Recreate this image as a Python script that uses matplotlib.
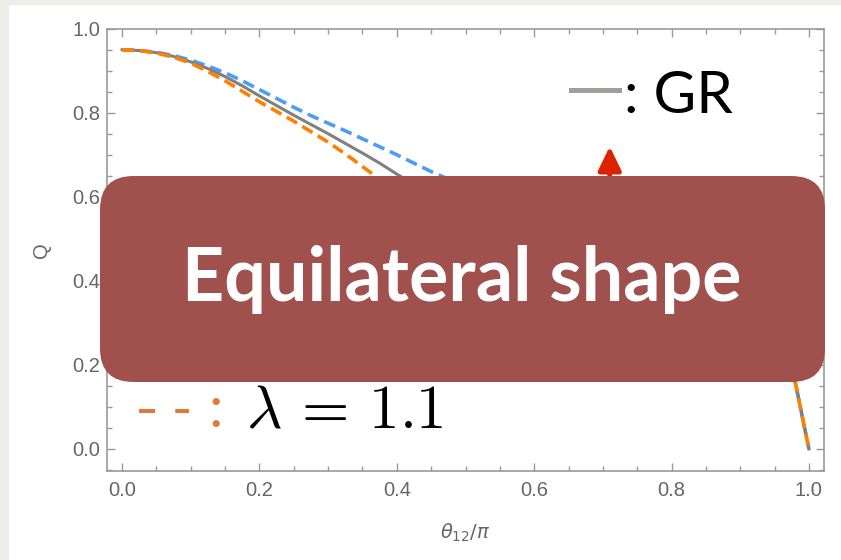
import numpy as np
import matplotlib
matplotlib.use("Agg")
import matplotlib.pyplot as plt
from matplotlib.patches import FancyBboxPatch, Rectangle
from matplotlib.lines import Line2D
from matplotlib.ticker import MultipleLocator, FormatStrFormatter

# theta_12 / pi
theta = [0.000, 0.025, 0.050, 0.075, 0.100, 0.125, 0.150, 0.175, 0.200, 0.225,
         0.250, 0.275, 0.300, 0.325, 0.350, 0.375, 0.400, 0.425, 0.450, 0.475,
         0.500, 0.550, 0.600, 0.650, 0.700, 0.750, 0.800, 0.850, 0.900, 0.930,
         0.950, 0.970, 0.980, 0.990, 1.000]
q_gr = [0.950, 0.948, 0.943, 0.934, 0.921, 0.905, 0.886, 0.864, 0.840, 0.817,
        0.794, 0.772, 0.750, 0.727, 0.704, 0.680, 0.654, 0.629, 0.605, 0.582,
        0.560, 0.518, 0.480, 0.445, 0.413, 0.383, 0.354, 0.324, 0.290, 0.265,
        0.243, 0.205, 0.160, 0.080, 0.000]
q_blue = [0.950, 0.948, 0.944, 0.936, 0.925, 0.911, 0.895, 0.876, 0.855, 0.834,
          0.813, 0.793, 0.775, 0.757, 0.738, 0.719, 0.700, 0.680, 0.660, 0.642,
          0.625, 0.592, 0.560, 0.528, 0.496, 0.462, 0.428, 0.390, 0.342, 0.305,
          0.272, 0.215, 0.160, 0.080, 0.000]
q_lam11 = [0.950, 0.948, 0.942, 0.932, 0.918, 0.898, 0.876, 0.851, 0.826, 0.803,
           0.780, 0.755, 0.730, 0.702, 0.672, 0.642, 0.612, 0.583, 0.555, 0.529,
           0.505, 0.462, 0.425, 0.392, 0.362, 0.335, 0.308, 0.282, 0.252, 0.230,
           0.212, 0.185, 0.160, 0.080, 0.000]

W, H = 841, 560
fig = plt.figure(figsize=(W / 100, H / 100), dpi=100)
fig.patch.set_facecolor("white")

def fx(x):
    return x / W

def fy(y):
    return 1 - y / H

# paper-coloured border strips
fig.patches.append(Rectangle((0, 0), fx(8), 1, transform=fig.transFigure,
                             color="#efede9", zorder=-5))
fig.patches.append(Rectangle((0, fy(4)), 1, 1 - fy(4), transform=fig.transFigure,
                             color="#efede9", zorder=-5))

ax = fig.add_axes([fx(107), fy(471), fx(824) - fx(107), fy(28.7) - fy(471)])
ax.plot(theta, q_gr, color="#808080", lw=2.2, zorder=3)
ax.plot(theta, q_blue, color="#4d9df5", lw=2.6, dashes=(3.3, 1.7), zorder=2)
ax.plot(theta, q_lam11, color="#ff8000", lw=2.6, dashes=(3.3, 1.7), zorder=4)

ax.set_xlim(-0.022, 1.022)
ax.set_ylim(-0.0525, 1.0)
ax.xaxis.set_major_locator(MultipleLocator(0.2))
ax.xaxis.set_minor_locator(MultipleLocator(0.05))
ax.yaxis.set_major_locator(MultipleLocator(0.2))
ax.yaxis.set_minor_locator(MultipleLocator(0.05))
ax.xaxis.set_major_formatter(FormatStrFormatter("%.1f"))
ax.yaxis.set_major_formatter(FormatStrFormatter("%.1f"))
ax.tick_params(which="both", direction="in", top=True, right=True, color="#999999",
               width=1, labelcolor="#666666", labelsize=14.5)
ax.tick_params(which="major", length=6)
ax.tick_params(which="minor", length=3.3)
ax.tick_params(axis="x", pad=7)
ax.tick_params(axis="y", pad=5)
for s in ax.spines.values():
    s.set_color("#999999")
    s.set_linewidth(1.2)
for lab in ax.get_xticklabels() + ax.get_yticklabels():
    lab.set_family("Liberation Sans")
ax.set_ylabel("Q", color="#666666", fontsize=14.5, family="Liberation Sans", labelpad=15)
ax.set_xlabel(r"$\theta_{12}/\pi$", color="#666666", fontsize=14, labelpad=16)

# red arrow
ax.annotate("", xy=(0.71, 0.72), xytext=(0.71, 0.55),
            arrowprops=dict(arrowstyle="-|>,head_length=1.45,head_width=0.7",
                            color="#dd2200", lw=3.5, shrinkA=0, shrinkB=0))

# legend-like labels
fig.lines.append(Line2D([fx(571), fx(619)], [fy(90), fy(90)], transform=fig.transFigure,
                        color="#a19d99", lw=3.6))
fig.text(fx(624), fy(113), ": GR", fontsize=42, family="Lato", color="black",
         va="baseline", ha="left")
fig.lines.append(Line2D([fx(139), fx(189)], [fy(411), fy(411)], transform=fig.transFigure,
                        color="#e07a3a", lw=2.9, dashes=(4.0, 5.0)))
fig.text(fx(208), fy(427), ":", fontsize=42, family="Lato", color="#e07a3a",
         va="baseline", ha="left")
fig.text(fx(246), fy(427), r"$\lambda\,=\,1.1$", fontsize=44, color="black",
         va="baseline", ha="left", math_fontfamily="cm")

# overlay banner
box = FancyBboxPatch((fx(100), fy(382)), fx(825) - fx(100), fy(176) - fy(382),
                     boxstyle="round,pad=0,rounding_size=0.04",
                     transform=fig.transFigure, facecolor="#a1514d", edgecolor="none",
                     mutation_aspect=W / H, zorder=5)
fig.patches.append(box)
fig.text(fx(462), fy(301), "Equilateral shape", fontsize=53, family="Lato",
         weight="bold", color="white", ha="center", va="baseline", zorder=6)

fig.savefig("out.png", dpi=100)
